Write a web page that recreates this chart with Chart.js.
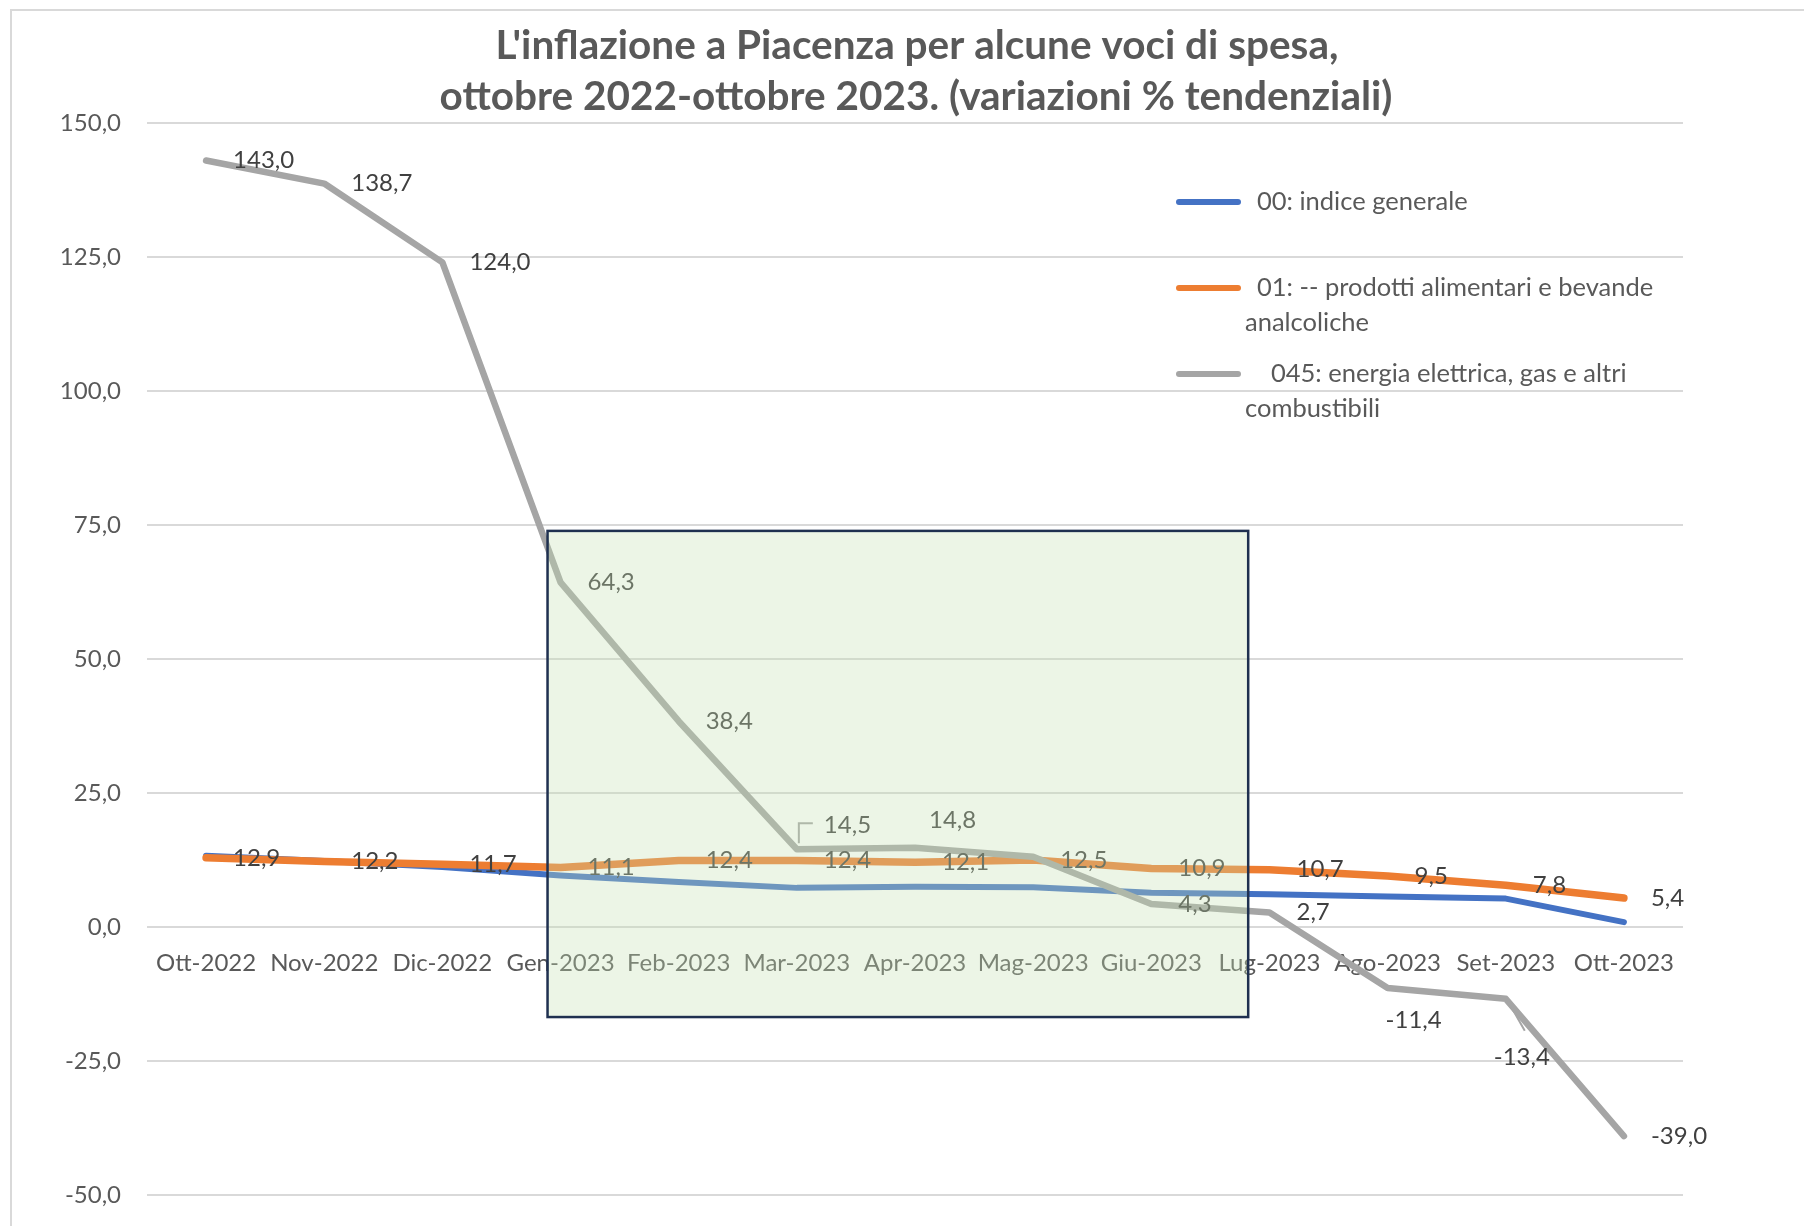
<!DOCTYPE html>
<html>
<head>
<meta charset="utf-8">
<script src="https://cdn.jsdelivr.net/npm/chart.js@4.4.0/dist/chart.umd.min.js"></script>
<style>
  html, body { margin: 0; padding: 0; background: #fff; }
  #wrap { width: 1804px; height: 1226px; }
</style>
</head>
<body>
<div id="wrap"><canvas id="chart" width="1804" height="1226"></canvas></div>
<script>
//dati
var mesi = ["Ott-2022", "Nov-2022", "Dic-2022", "Gen-2023", "Feb-2023", "Mar-2023", "Apr-2023",
            "Mag-2023", "Giu-2023", "Lug-2023", "Ago-2023", "Set-2023", "Ott-2023"];
var indiceGenerale = [13.3, 12.3, 11.2, 9.6, 8.4, 7.3, 7.5, 7.4, 6.4, 6.1, 5.7, 5.3, 0.9];
var alimentari = [12.9, 12.2, 11.7, 11.1, 12.4, 12.4, 12.1, 12.5, 10.9, 10.7, 9.5, 7.8, 5.4];
var energia = [143.0, 138.7, 124.0, 64.3, 38.4, 14.5, 14.8, 13.1, 4.3, 2.7, -11.4, -13.4, -39.0];

var yMin = -50, yMax = 150, yStep = 25;

var titolo = ["L'inflazione a Piacenza per alcune voci di spesa,",
              "ottobre 2022-ottobre 2023. (variazioni % tendenziali)"];
var legenda = [
  ["00: indice generale"],
  ["01: -- prodotti alimentari e bevande", "analcoliche"],
  ["045: energia elettrica, gas e altri", "combustibili"]
];

var BLU = '#4472c4', ARANCIO = '#ed7d31', GRIGIO = '#a5a5a5';
var FONT = 'Lato';

function fmt(v) {
  return v.toFixed(1).replace('.', ',');
}

// spostamenti delle etichette (dx, dy) rispetto al punto; null = nessuna etichetta
var posEtichette = {
  1: {},
  2: { 5: [27, -24], 6: [14, -27], 7: null, 10: [-2, 32], 11: [-12, 58] }
};

var sfondo = {
  id: 'sfondo',
  beforeDraw: function(chart) {
    var c = chart.ctx;
    c.save();
    c.fillStyle = '#fff';
    c.fillRect(0, 0, chart.width, chart.height);
    c.strokeStyle = '#d9d9d9';
    c.lineWidth = 2;
    c.strokeRect(11, 10, chart.width + 20, chart.height + 20);
    c.restore();
  }
};

var etichette = {
  id: 'etichette',
  afterDatasetsDraw: function(chart) {
    var c = chart.ctx;
    c.save();
    c.font = '24px ' + FONT;
    c.fillStyle = '#404040';
    c.textBaseline = 'middle';
    c.textAlign = 'left';
    [1, 2].forEach(function(i) {
      var meta = chart.getDatasetMeta(i);
      var ds = chart.data.datasets[i];
      meta.data.forEach(function(pt, j) {
        var sp = posEtichette[i][j];
        if (sp === null) return;
        var dx = sp ? sp[0] : 27, dy = sp ? sp[1] : 0;
        c.fillText(fmt(ds.data[j]), pt.x + dx, pt.y + dy);
      });
    });
    // linee guida delle etichette spostate
    var m = chart.getDatasetMeta(2).data;
    c.strokeStyle = GRIGIO;
    c.lineWidth = 2;
    c.beginPath();
    c.moveTo(m[5].x + 2, m[5].y - 6);
    c.lineTo(m[5].x + 2, m[5].y - 26);
    c.lineTo(m[5].x + 16, m[5].y - 26);
    c.moveTo(m[11].x + 2, m[11].y + 2);
    c.lineTo(m[11].x + 19, m[11].y + 32);
    c.stroke();
    c.restore();
  }
};

var riquadro = {
  id: 'riquadro',
  afterDraw: function(chart) {
    var c = chart.ctx, x = chart.scales.x, y = chart.scales.y;
    var l = x.getPixelForValue(2.89), r = x.getPixelForValue(8.82);
    var t = y.getPixelForValue(73.9), b = y.getPixelForValue(-16.8);
    c.save();
    c.fillStyle = 'rgba(198, 224, 180, 0.33)';
    c.fillRect(l, t, r - l, b - t);
    c.strokeStyle = '#1f3050';
    c.lineWidth = 2.5;
    c.strokeRect(l, t, r - l, b - t);
    c.restore();
  }
};

var testi = {
  id: 'testi',
  afterDraw: function(chart) {
    var c = chart.ctx;
    c.save();
    c.fillStyle = '#595959';
    c.textAlign = 'center';
    c.textBaseline = 'middle';
    c.font = 'bold 40.5px ' + FONT;
    c.fillText(titolo[0], 917, 46);
    c.fillText(titolo[1], 916, 97);

    // legenda
    var colori = [BLU, ARANCIO, GRIGIO];
    var yl = [202, 288, 374];
    c.textAlign = 'left';
    c.font = '25.5px ' + FONT;
    legenda.forEach(function(righe, k) {
      c.strokeStyle = colori[k];
      c.lineWidth = 6;
      c.lineCap = 'round';
      c.beginPath();
      c.moveTo(1179, yl[k]);
      c.lineTo(1238, yl[k]);
      c.stroke();
      c.fillText(righe[0], k == 2 ? 1271 : 1257, yl[k]);
      if (righe[1]) c.fillText(righe[1], 1245, yl[k] + 35);
    });
    c.restore();
  }
};

var ctx = document.getElementById('chart').getContext('2d');
var grafico = new Chart(ctx, {
  type: 'line',
  data: {
    labels: mesi,
    datasets: [{
      label: '00: indice generale',
      data: indiceGenerale,
      borderColor: BLU,
      borderWidth: 6,
      order: 3
    }, {
      label: '01: -- prodotti alimentari e bevande analcoliche',
      data: alimentari,
      borderColor: ARANCIO,
      borderWidth: 7.5,
      order: 2
    }, {
      label: '045: energia elettrica, gas e altri combustibili',
      data: energia,
      borderColor: GRIGIO,
      borderWidth: 6.5,
      order: 1
    }]
  },
  options: {
    responsive: false,
    animation: false,
    layout: { padding: { left: 0, right: 121, top: 123, bottom: 31 } },
    elements: {
      point: { radius: 0 },
      line: { tension: 0, borderJoinStyle: 'round', borderCapStyle: 'round', fill: false }
    },
    plugins: {
      legend: { display: false },
      title: { display: false },
      tooltip: { enabled: false }
    },
    scales: {
      x: {
        type: 'category',
        position: { y: 0 },
        offset: true,
        afterFit: function(scale) { scale.height = 0; },
        grid: { display: false, drawTicks: false },
        border: { display: false },
        ticks: {
          color: '#595959',
          font: { family: FONT, size: 24 },
          padding: 22,
          maxRotation: 0,
          autoSkip: false
        }
      },
      y: {
        min: yMin,
        max: yMax,
        afterFit: function(scale) {
          scale.width = 147;
          scale.paddingTop = 0;
          scale.paddingBottom = 0;
        },
        grid: { color: '#d9d9d9', lineWidth: 2, drawTicks: false },
        border: { display: false },
        ticks: {
          stepSize: yStep,
          color: '#595959',
          font: { family: FONT, size: 24 },
          padding: 26,
          callback: function(v) { return fmt(v); }
        }
      }
    }
  },
  plugins: [sfondo, etichette, riquadro, testi]
});
</script>
</body>
</html>
